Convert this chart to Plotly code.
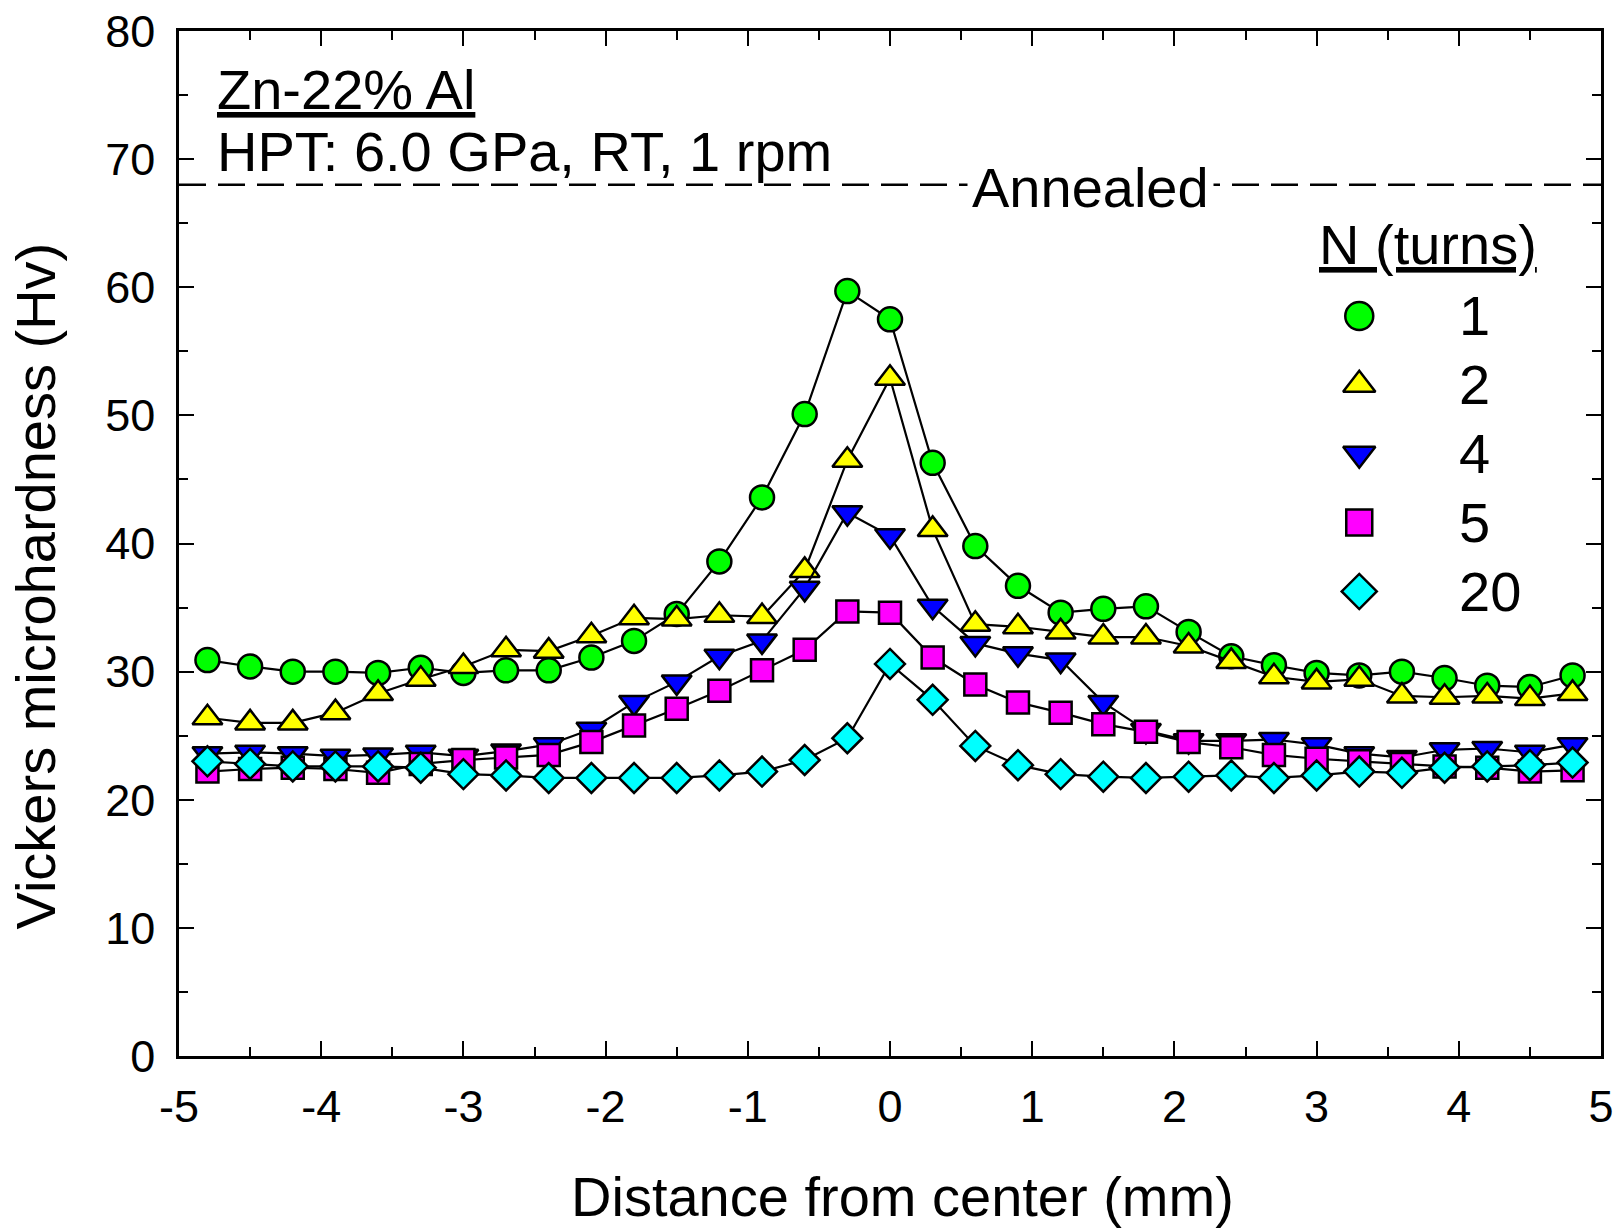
import plotly.graph_objects as go

# ---------------- data ----------------
distance_mm = [-4.8, -4.5, -4.2, -3.9, -3.6, -3.3, -3.0, -2.7, -2.4, -2.1, -1.8,
               -1.5, -1.2, -0.9, -0.6, -0.3, 0.0, 0.3, 0.6, 0.9, 1.2, 1.5, 1.8,
               2.1, 2.4, 2.7, 3.0, 3.3, 3.6, 3.9, 4.2, 4.5, 4.8]

hv_n1 = [30.9, 30.4, 30.0, 30.0, 29.9, 30.3, 29.9, 30.1, 30.1, 31.1, 32.4,
         34.5, 38.6, 43.6, 50.1, 59.7, 57.5, 46.3, 39.8, 36.7, 34.6, 34.9, 35.1,
         33.1, 31.2, 30.5, 29.9, 29.7, 30.0, 29.5, 28.9, 28.8, 29.7]
hv_n2 = [26.4, 26.0, 26.0, 26.8, 28.3, 29.4, 30.4, 31.7, 31.6, 32.8, 34.2,
         34.1, 34.4, 34.3, 37.9, 46.5, 52.9, 41.1, 33.7, 33.5, 33.1, 32.7, 32.7,
         32.0, 30.8, 29.6, 29.2, 29.4, 28.1, 28.0, 28.1, 27.9, 28.3]
hv_n4 = [23.6, 23.7, 23.6, 23.4, 23.5, 23.7, 23.4, 23.8, 24.3, 25.5, 27.6,
         29.2, 31.2, 32.4, 36.5, 42.4, 40.6, 35.1, 32.2, 31.4, 30.9, 27.6, 25.4,
         24.6, 24.6, 24.7, 24.3, 23.6, 23.3, 23.9, 24.0, 23.7, 24.3]
hv_n5 = [22.2, 22.4, 22.5, 22.4, 22.1, 22.8, 23.1, 23.3, 23.5, 24.5, 25.8,
         27.1, 28.5, 30.1, 31.7, 34.7, 34.6, 31.1, 29.0, 27.6, 26.8, 25.9, 25.3,
         24.5, 24.1, 23.5, 23.2, 23.0, 22.8, 22.6, 22.5, 22.2, 22.3]
hv_n20 = [23.0, 22.8, 22.6, 22.6, 22.6, 22.5, 22.0, 21.9, 21.7, 21.7, 21.7,
          21.7, 21.9, 22.2, 23.1, 24.8, 30.6, 27.8, 24.2, 22.7, 22.0, 21.8, 21.7,
          21.8, 21.9, 21.7, 21.9, 22.2, 22.1, 22.5, 22.6, 22.7, 22.9]

turn_labels = ["1", "2", "4", "5", "20"]
annealed_hv = 68.0

x_range = [-5, 5]
y_range = [0, 80]
x_tick_vals = [-5, -4, -3, -2, -1, 0, 1, 2, 3, 4, 5]
x_tick_text = ["-5", "-4", "-3", "-2", "-1", "0", "1", "2", "3", "4", "5"]
y_tick_vals = [0, 10, 20, 30, 40, 50, 60, 70, 80]
y_tick_text = ["0", "10", "20", "30", "40", "50", "60", "70", "80"]

# ---------------- styles ----------------
FONT = "Liberation Sans, Arial, sans-serif"
series = [hv_n1, hv_n2, hv_n4, hv_n5, hv_n20]
symbols = ["circle", "triangle-up", "triangle-down", "square", "diamond"]
colors = ["#00FF00", "#FFFF00", "#0000FF", "#FF00FF", "#00FFFF"]
sizes = [24, 26, 26, 22, 23]
legend_sizes = [28, 28, 28, 26, 27]

fig = go.Figure()

# annealed reference line
fig.add_trace(go.Scatter(
    x=x_range, y=[annealed_hv, annealed_hv], mode="lines",
    line=dict(color="black", width=2.6, dash="27px,12px"),
    showlegend=False, hoverinfo="skip"))

for vals, sym, col, sz, lab in zip(series, symbols, colors, sizes, turn_labels):
    fig.add_trace(go.Scatter(
        x=distance_mm, y=vals, mode="lines+markers", name=lab,
        line=dict(color="black", width=2.2),
        marker=dict(symbol=sym, size=sz, color=col,
                    line=dict(color="black", width=2.5)),
        showlegend=False, cliponaxis=False))

# hand-made legend (on an overlay axis spanning the plot area, 0..1)
leg_x = 0.830
leg_y0 = 0.722
leg_dy = 0.0672
for i, (sym, col, sz, lab) in enumerate(zip(symbols, colors, legend_sizes, turn_labels)):
    yy = leg_y0 - i * leg_dy
    fig.add_trace(go.Scatter(
        x=[leg_x], y=[yy], xaxis="x2", yaxis="y2", mode="markers",
        marker=dict(symbol=sym, size=sz, color=col,
                    line=dict(color="black", width=2.5)),
        showlegend=False, hoverinfo="skip", cliponaxis=False))
    fig.add_annotation(
        x=0.899, y=yy, xref="paper", yref="paper", text=lab, showarrow=False,
        xanchor="left", yanchor="middle",
        font=dict(family=FONT, size=56, color="black"))

fig.add_annotation(
    x=0.800, y=0.792, xref="paper", yref="paper", text="<u>N (turns)</u>",
    showarrow=False, xanchor="left", yanchor="middle",
    font=dict(family=FONT, size=56, color="black"))

# text annotations
fig.add_annotation(
    x=0.025, y=0.943, xref="paper", yref="paper", text="<u>Zn-22% Al</u>",
    showarrow=False, xanchor="left", yanchor="middle",
    font=dict(family=FONT, size=56, color="black"))
fig.add_annotation(
    x=0.025, y=0.882, xref="paper", yref="paper", text="HPT: 6.0 GPa, RT, 1 rpm",
    showarrow=False, xanchor="left", yanchor="middle",
    font=dict(family=FONT, size=56, color="black"))
fig.add_annotation(
    x=0.641, y=0.847, xref="paper", yref="paper", text="Annealed",
    showarrow=False, xanchor="center", yanchor="middle",
    bgcolor="white", borderpad=4,
    font=dict(family=FONT, size=56, color="black"))

# axis titles
fig.add_annotation(
    x=0.509, y=-0.137, xref="paper", yref="paper", text="Distance from center (mm)",
    showarrow=False, xanchor="center", yanchor="middle",
    font=dict(family=FONT, size=56, color="black"))
fig.add_annotation(
    x=-0.101, y=0.4585, xref="paper", yref="paper", text="Vickers microhardness (Hv)",
    showarrow=False, xanchor="center", yanchor="middle", textangle=-90,
    font=dict(family=FONT, size=56, color="black"))

axis_common = dict(
    showgrid=False, zeroline=False, showline=True, linecolor="black",
    linewidth=2.5, mirror="allticks", ticks="inside", ticklen=15,
    tickwidth=2, tickcolor="black", automargin=False,
    tickfont=dict(family=FONT, size=45, color="black"))

fig.update_layout(
    width=1620, height=1228,
    margin=dict(l=179, r=19, t=31, b=172, autoexpand=False),
    paper_bgcolor="white", plot_bgcolor="white",
    showlegend=False,
    xaxis=dict(range=x_range, tickvals=x_tick_vals, ticktext=x_tick_text,
               minor=dict(dtick=0.5, tick0=-5, ticks="inside", ticklen=9,
                          tickwidth=2, tickcolor="black"),
               ticklabelstandoff=9, **axis_common),
    yaxis=dict(range=y_range, tickvals=y_tick_vals, ticktext=y_tick_text,
               minor=dict(dtick=5, tick0=0, ticks="inside", ticklen=9,
                          tickwidth=2, tickcolor="black"),
               ticklabelstandoff=12, **axis_common),
    xaxis2=dict(range=[0, 1], overlaying="x", visible=False, fixedrange=True),
    yaxis2=dict(range=[0, 1], overlaying="y", visible=False, fixedrange=True),
)

fig.write_html(
    "out.html",
    config={"displayModeBar": False},
    post_script="document.body.style.margin='0';document.body.style.overflow='hidden';")
